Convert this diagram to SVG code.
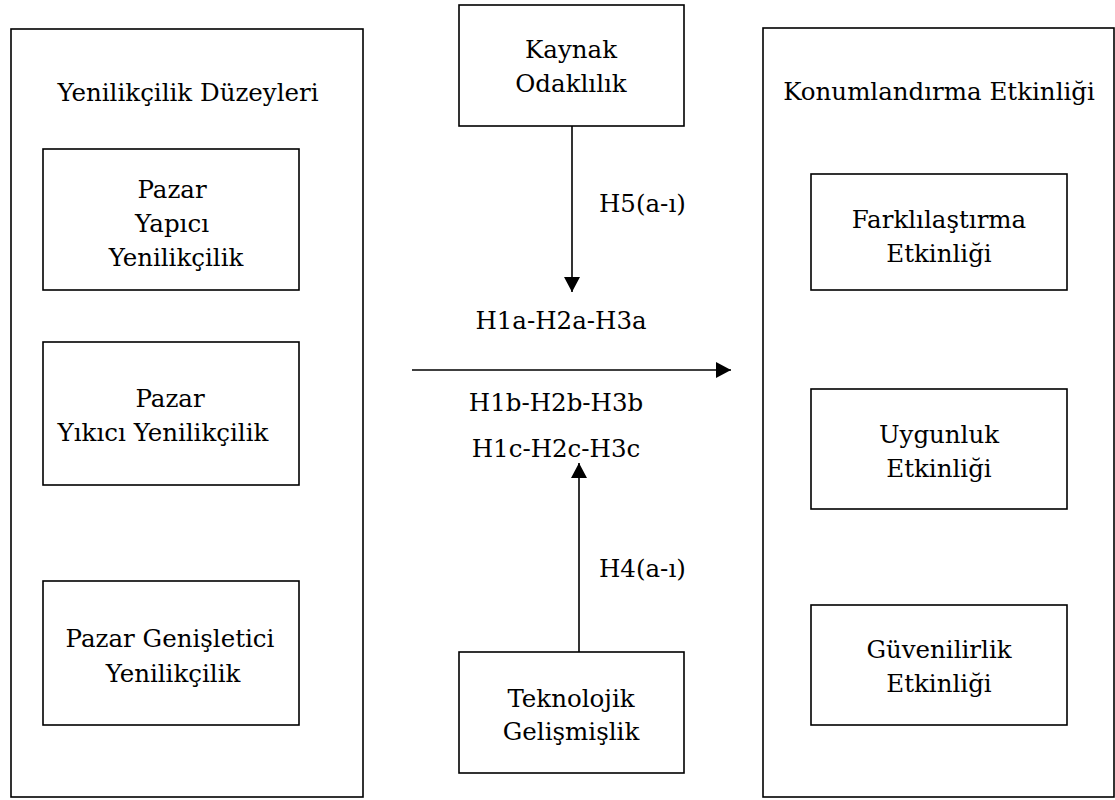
<svg xmlns="http://www.w3.org/2000/svg" width="1115" height="800" viewBox="0 0 1115 800">
<style>
rect{fill:none;stroke:#000;stroke-width:1.6}
text{font-family:"DejaVu Serif","Liberation Serif","Times New Roman",serif;font-size:24.5px;fill:#000;text-anchor:middle}
.l{text-anchor:start}
.c line{stroke:#000;stroke-width:1.6}
</style>
<defs>
<marker id="ah" markerUnits="userSpaceOnUse" markerWidth="16" markerHeight="18" refX="15" refY="8" orient="auto">
<path d="M0,0 L15,8 L0,16 z" fill="#000"/>
</marker>
</defs>
<rect width="1115" height="800" style="fill:#fff;stroke:none"/>
<g id="yenilikcilik">
<rect x="11" y="29" width="352" height="768"/>
<text x="188" y="101">Yenilikçilik Düzeyleri</text>
</g>
<g id="pazar-yapici">
<rect x="43" y="149" width="256" height="141"/>
<text x="172" y="198">Pazar</text>
<text x="172" y="232">Yapıcı</text>
<text x="176" y="266">Yenilikçilik</text>
</g>
<g id="pazar-yikici">
<rect x="43" y="342" width="256" height="143"/>
<text x="170" y="407">Pazar</text>
<text x="163" y="441">Yıkıcı Yenilikçilik</text>
</g>
<g id="pazar-genisletici">
<rect x="43" y="581" width="256" height="144"/>
<text x="170" y="647">Pazar Genişletici</text>
<text x="173" y="682">Yenilikçilik</text>
</g>
<g id="kaynak">
<rect x="459" y="5" width="225" height="121"/>
<text x="571" y="58">Kaynak</text>
<text x="571" y="92">Odaklılık</text>
</g>
<g id="teknolojik">
<rect x="459" y="652" width="225" height="121"/>
<text x="571" y="707">Teknolojik</text>
<text x="571" y="740">Gelişmişlik</text>
</g>
<g id="konumlandirma">
<rect x="763" y="28" width="351" height="769"/>
<text x="939" y="100">Konumlandırma Etkinliği</text>
</g>
<g id="farklilastirma">
<rect x="811" y="174" width="256" height="116"/>
<text x="939" y="228">Farklılaştırma</text>
<text x="939" y="262">Etkinliği</text>
</g>
<g id="uygunluk">
<rect x="811" y="389" width="256" height="120"/>
<text x="939" y="443">Uygunluk</text>
<text x="939" y="477">Etkinliği</text>
</g>
<g id="guvenilirlik">
<rect x="811" y="605" width="256" height="120"/>
<text x="939" y="658">Güvenilirlik</text>
<text x="939" y="692">Etkinliği</text>
</g>
<g id="connectors" class="c">
<line x1="572" y1="126" x2="572" y2="292" marker-end="url(#ah)"/>
<line x1="412" y1="370" x2="731" y2="370" marker-end="url(#ah)"/>
<line x1="579" y1="652" x2="579" y2="463" marker-end="url(#ah)"/>
<text class="l" x="599" y="212">H5(a-ı)</text>
<text class="l" x="599" y="577">H4(a-ı)</text>
<text x="561" y="329">H1a-H2a-H3a</text>
<text x="556" y="411">H1b-H2b-H3b</text>
<text x="556" y="457">H1c-H2c-H3c</text>
</g>
</svg>
